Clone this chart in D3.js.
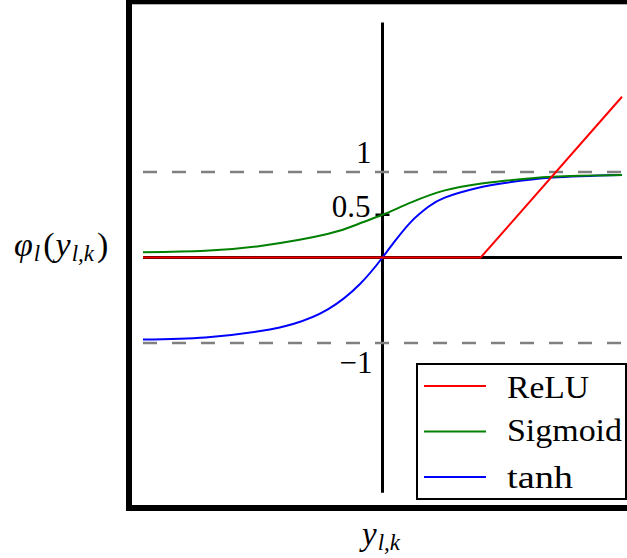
<!DOCTYPE html>
<html>
<head>
<meta charset="utf-8">
<script src="https://cdn.jsdelivr.net/npm/d3@7"></script>
<style>
  html, body { margin: 0; padding: 0; background: #fff; }
  svg { display: block; }
</style>
</head>
<body>
<svg id="chart" width="627" height="558" font-family="'Liberation Serif', 'Times New Roman', Times, 'DejaVu Serif', serif"></svg>
<script>
// Activation functions sampled along the input axis
const reluX    = [-5, 2.05, 5];
const reluY    = [0, 0, 1.88];
const sigmoidX = [-5, -3.7, -2.55, -1.15, -0.47, 0, 0.6, 1.3, 2.0, 2.6, 3.55, 5];
const sigmoidY = [0.06, 0.078, 0.135, 0.275, 0.40, 0.5, 0.645, 0.785, 0.86, 0.9, 0.945, 0.965];
const tanhX    = [-5, -3.7, -2.55, -1.85, -1.15, -0.47, 0, 0.25, 0.6, 0.95, 1.3, 2.0, 2.6, 3.55, 5];
const tanhY    = [-0.96, -0.935, -0.86, -0.775, -0.61, -0.31, 0, 0.185, 0.42, 0.59, 0.7, 0.815, 0.875, 0.935, 0.965];

// Reference levels and y tick labels
const refLevels  = [1, -1];
const tickValues = [1, 0.5, -1];
const tickLabels = ["1", "0.5", "\u22121"];
const seriesNames  = ["ReLU", "Sigmoid", "tanh"];
const seriesColors = ["#ff0000", "#008000", "#0000ff"];

const svg = d3.select("#chart");
const x = d3.scaleLinear().domain([-5, 5]).range([143, 622]);
const y = d3.scaleLinear().domain([-1, 1]).range([343, 172]);

// Outer frame
svg.append("rect")
  .attr("x", 129).attr("y", 1.3)
  .attr("width", 510).attr("height", 506.7)
  .attr("fill", "none").attr("stroke", "#000").attr("stroke-width", 6);

// Cross-shaped axes through the origin
svg.append("line")
  .attr("x1", x(-5)).attr("x2", x(5))
  .attr("y1", y(0)).attr("y2", y(0))
  .attr("stroke", "#000").attr("stroke-width", 3);
svg.append("line")
  .attr("x1", x(0)).attr("x2", x(0))
  .attr("y1", y(-2.75)).attr("y2", y(2.75))
  .attr("stroke", "#000").attr("stroke-width", 3);

// Dashed asymptote levels at ±1
svg.selectAll("line.ref").data(refLevels).enter().append("line")
  .attr("class", "ref")
  .attr("x1", x(-5)).attr("x2", x(5))
  .attr("y1", d => y(d)).attr("y2", d => y(d))
  .attr("stroke", "#808080").attr("stroke-width", 2.6)
  .attr("stroke-dasharray", "14,15");

// Tick mark at 0.5
svg.append("line")
  .attr("x1", x(0) - 7).attr("x2", x(0) + 7)
  .attr("y1", y(0.5)).attr("y2", y(0.5))
  .attr("stroke", "#000").attr("stroke-width", 2.5);

// Tick labels
const labelShift = { "1": [-11, -9], "0.5": [-12, 2.5], "\u22121": [-10, 30] };
svg.selectAll("text.tick").data(tickValues).enter().append("text")
  .attr("class", "tick")
  .attr("x", (d, i) => x(0) + labelShift[tickLabels[i]][0])
  .attr("y", (d, i) => y(d) + labelShift[tickLabels[i]][1])
  .attr("text-anchor", "end")
  .attr("font-size", 31)
  .text((d, i) => tickLabels[i]);

// Curves
const smooth = d3.line().x(d => x(d[0])).y(d => y(d[1])).curve(d3.curveNatural);
const straight = d3.line().x(d => x(d[0])).y(d => y(d[1]));
const series = [
  { pts: d3.zip(reluX, reluY), gen: straight },
  { pts: d3.zip(sigmoidX, sigmoidY), gen: smooth },
  { pts: d3.zip(tanhX, tanhY), gen: smooth }
];
// tanh and sigmoid go beneath ReLU
[2, 1, 0].forEach(i => {
  svg.append("path")
    .attr("d", series[i].gen(series[i].pts))
    .attr("fill", "none")
    .attr("stroke", seriesColors[i])
    .attr("stroke-width", 2);
});

// Legend
const lg = svg.append("g");
lg.append("rect")
  .attr("x", 417).attr("y", 364)
  .attr("width", 209).attr("height", 135)
  .attr("fill", "#fff").attr("stroke", "#000").attr("stroke-width", 2);
const rowY = [386, 431.5, 477];
const textY = [398, 441, 488];
const textW = [82, 115, 66];
seriesNames.forEach((name, i) => {
  lg.append("line")
    .attr("x1", 424).attr("x2", 486)
    .attr("y1", rowY[i]).attr("y2", rowY[i])
    .attr("stroke", seriesColors[i]).attr("stroke-width", 2);
  lg.append("text")
    .attr("x", 507).attr("y", textY[i])
    .attr("font-size", 32)
    .attr("textLength", textW[i])
    .attr("lengthAdjust", "spacingAndGlyphs")
    .text(name);
});

// Axis titles
const yt = svg.append("text").attr("x", 14).attr("y", 256).attr("font-size", 34);
yt.append("tspan").attr("font-style", "italic").text("\u03C6");
yt.append("tspan").attr("font-style", "italic").attr("font-size", 23).attr("dx", 1).attr("dy", 5).text("l");
yt.append("tspan").attr("dx", 3).attr("dy", -5).text("(");
yt.append("tspan").attr("font-style", "italic").attr("dx", 1).text("y");
yt.append("tspan").attr("font-style", "italic").attr("font-size", 23).attr("dx", 1).attr("dy", 5).text("l,k");
yt.append("tspan").attr("dx", 3).attr("dy", -5).text(")");

const xt = svg.append("text").attr("x", 362).attr("y", 545).attr("font-size", 33);
xt.append("tspan").attr("font-style", "italic").text("y");
xt.append("tspan").attr("font-style", "italic").attr("font-size", 23).attr("dx", 1).attr("dy", 5).text("l,k");
</script>
</body>
</html>
